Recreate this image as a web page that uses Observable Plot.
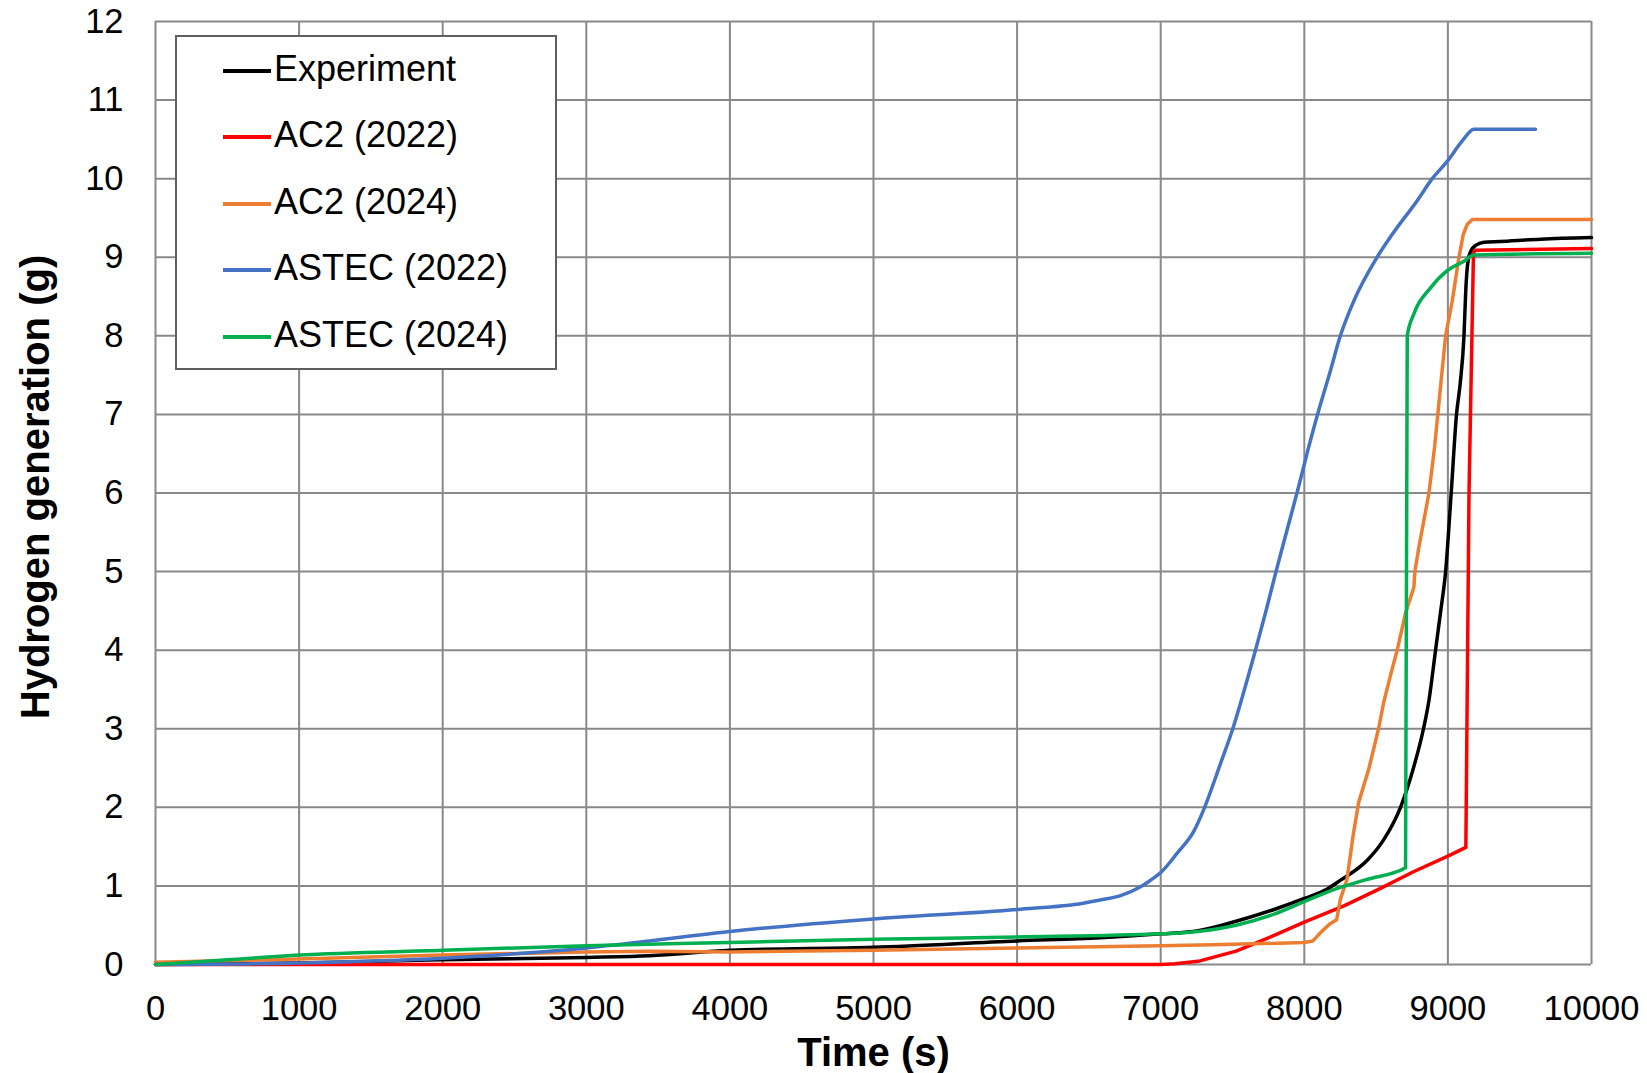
<!DOCTYPE html>
<html>
<head>
<meta charset="utf-8">
<script src="https://cdn.jsdelivr.net/npm/d3@7"></script>
<script src="https://cdn.jsdelivr.net/npm/@observablehq/plot@0.6"></script>
<style>
  html, body { margin: 0; padding: 0; background: #fff; }
  #wrap { position: relative; width: 1647px; height: 1073px; font-family: "Liberation Sans", Arial, sans-serif; }
  #legend { position: absolute; left: 175px; top: 35px; width: 378px; height: 331px; border: 2px solid #5f5f5f; background: #fff; }
  .item { position: absolute; left: 0; height: 0; }
  .sw { position: absolute; left: 46px; width: 48px; height: 3.5px; margin-top: -1.75px; }
  .lb { position: absolute; left: 97px; top: -23px; font-size: 36px; line-height: 42px; white-space: nowrap; color: #000; }
</style>
</head>
<body>
<div id="wrap"></div>
<script>
// ---- data ----
const seriesNames = ["Experiment", "AC2 (2022)", "AC2 (2024)", "ASTEC (2022)", "ASTEC (2024)"];
const seriesColors = ["#000000", "#FF0000", "#ED7D31", "#4472C4", "#00B050"];
const xTicks = [0, 1000, 2000, 3000, 4000, 5000, 6000, 7000, 8000, 9000, 10000];
const yTicks = [0, 1, 2, 3, 4, 5, 6, 7, 8, 9, 10, 11, 12];

const expT = [0, 1000, 1750, 2000, 3000, 3440, 4000, 5000, 6000, 6580, 7000, 7260, 7525, 7790, 8000, 8160, 8250, 8440, 8550, 8670, 8760, 8830, 8868, 8914, 8950, 8984, 9023, 9060, 9086, 9112, 9125, 9140, 9160, 9193, 9251, 9360, 9647, 10000];
const expH = [0, 0.02, 0.05, 0.06, 0.09, 0.11, 0.18, 0.22, 0.30, 0.34, 0.39, 0.43, 0.55, 0.70, 0.84, 0.96, 1.07, 1.33, 1.58, 2.0, 2.5, 3.0, 3.36, 4.0, 4.5, 5.0, 6.0, 7.0, 7.4, 8.0, 8.6, 8.95, 9.08, 9.15, 9.19, 9.2, 9.23, 9.25];

const ac22T = [0, 7000, 7100, 7260, 7525, 7790, 8000, 8280, 8520, 8760, 9000, 9125, 9147, 9178, 9190, 10000];
const ac22H = [0, 0, 0.01, 0.04, 0.17, 0.37, 0.54, 0.75, 0.96, 1.18, 1.38, 1.49, 6.0, 9.05, 9.09, 9.11];

const ac24T = [0, 1000, 2000, 3000, 3440, 4000, 5000, 6000, 7000, 7360, 8000, 8060, 8110, 8180, 8225, 8251, 8297, 8339, 8378, 8448, 8517, 8552, 8610, 8647, 8705, 8763, 8770, 8798, 8868, 8907, 8935, 8984, 9030, 9077, 9107, 9135, 9170, 10000];
const ac24H = [0.03, 0.07, 0.12, 0.16, 0.17, 0.16, 0.18, 0.21, 0.24, 0.25, 0.28, 0.30, 0.40, 0.52, 0.57, 0.83, 1.08, 1.63, 2.06, 2.48, 3.0, 3.33, 3.75, 4.0, 4.47, 4.8, 5.0, 5.31, 6.0, 6.58, 7.1, 8.0, 8.44, 9.0, 9.29, 9.42, 9.48, 9.48];

const as22T = [0, 1000, 2000, 3000, 3440, 4000, 5000, 6000, 6460, 6580, 6725, 6860, 6920, 7000, 7116, 7232, 7306, 7417, 7502, 7602, 7660, 7729, 7803, 7880, 7949, 8030, 8100, 8181, 8251, 8344, 8507, 8612, 8786, 8891, 8995, 9100, 9181, 9610];
const as22H = [0, 0.02, 0.08, 0.21, 0.30, 0.42, 0.58, 0.70, 0.78, 0.82, 0.88, 0.99, 1.06, 1.17, 1.42, 1.70, 2.0, 2.56, 3.0, 3.62, 4.0, 4.47, 5.0, 5.53, 6.0, 6.58, 7.05, 7.55, 8.0, 8.44, 9.0, 9.29, 9.72, 10.0, 10.22, 10.48, 10.63, 10.63];

const as24T = [0, 500, 1000, 2000, 3000, 4000, 5000, 6000, 7000, 7260, 7525, 7790, 8000, 8200, 8430, 8705, 8717, 8763, 8879, 8995, 9112, 9181, 10000];
const as24H = [0, 0.06, 0.12, 0.18, 0.24, 0.28, 0.32, 0.35, 0.39, 0.42, 0.50, 0.64, 0.80, 0.95, 1.08, 1.23, 8.0, 8.28, 8.61, 8.83, 8.95, 9.03, 9.05];

// ---- build table ----
const seriesData = [[expT, expH], [ac22T, ac22H], [ac24T, ac24H], [as22T, as22H], [as24T, as24H]];
const smooth = [true, false, false, true, true];
const rows = [];
seriesData.forEach(([T, H], i) => T.forEach((t, j) => rows.push({series: seriesNames[i], t, h: H[j]})));

const gridStyle = {stroke: "#898989", strokeOpacity: 1, strokeWidth: 2};
const lineMarks = seriesNames.map((name, i) =>
  Plot.line(rows.filter(r => r.series === name), {
    x: "t", y: "h", stroke: "series", strokeWidth: 3.5,
    strokeLinejoin: "round", strokeLinecap: "round",
    curve: smooth[i] ? "monotone-x" : "linear"
  })
);

const chart = Plot.plot({
  width: 1647,
  height: 1073,
  marginLeft: 155,
  marginRight: 56,
  marginTop: 21,
  marginBottom: 109,
  style: {fontFamily: "'Liberation Sans', Arial, sans-serif", fontSize: "34px", color: "#000", background: "#fff", overflow: "visible"},
  x: {domain: [0, 10000]},
  y: {domain: [0, 12]},
  color: {domain: seriesNames, range: seriesColors},
  marks: [
    Plot.gridX(xTicks, gridStyle),
    Plot.gridY(yTicks, gridStyle),
    Plot.axisX(xTicks, {tickSize: 0, tickPadding: 31, fontSize: 34.5, label: null, tickFormat: d => String(d)}),
    Plot.axisY(yTicks, {tickSize: 0, tickPadding: 32, fontSize: 34.5, label: null, tickFormat: d => String(d)}),
    ...lineMarks,
    Plot.text(["Time (s)"], {frameAnchor: "bottom", dy: 101, fontWeight: "bold", fontSize: 40}),
    Plot.text(["Hydrogen generation (g)"], {frameAnchor: "left", textAnchor: "middle", rotate: -90, dx: -119, dy: -6, fontWeight: "bold", fontSize: 40})
  ]
});

const wrap = document.getElementById("wrap");
wrap.appendChild(chart);

// legend
const legend = document.createElement("div");
legend.id = "legend";
const rowTops = [34, 100, 167, 233, 300];
seriesNames.forEach((name, i) => {
  const it = document.createElement("div");
  it.className = "item";
  it.style.top = rowTops[i] + "px";
  const sw = document.createElement("div");
  sw.className = "sw";
  sw.style.background = seriesColors[i];
  const lb = document.createElement("div");
  lb.className = "lb";
  lb.textContent = name;
  it.appendChild(sw);
  it.appendChild(lb);
  legend.appendChild(it);
});
wrap.appendChild(legend);
</script>
</body>
</html>
